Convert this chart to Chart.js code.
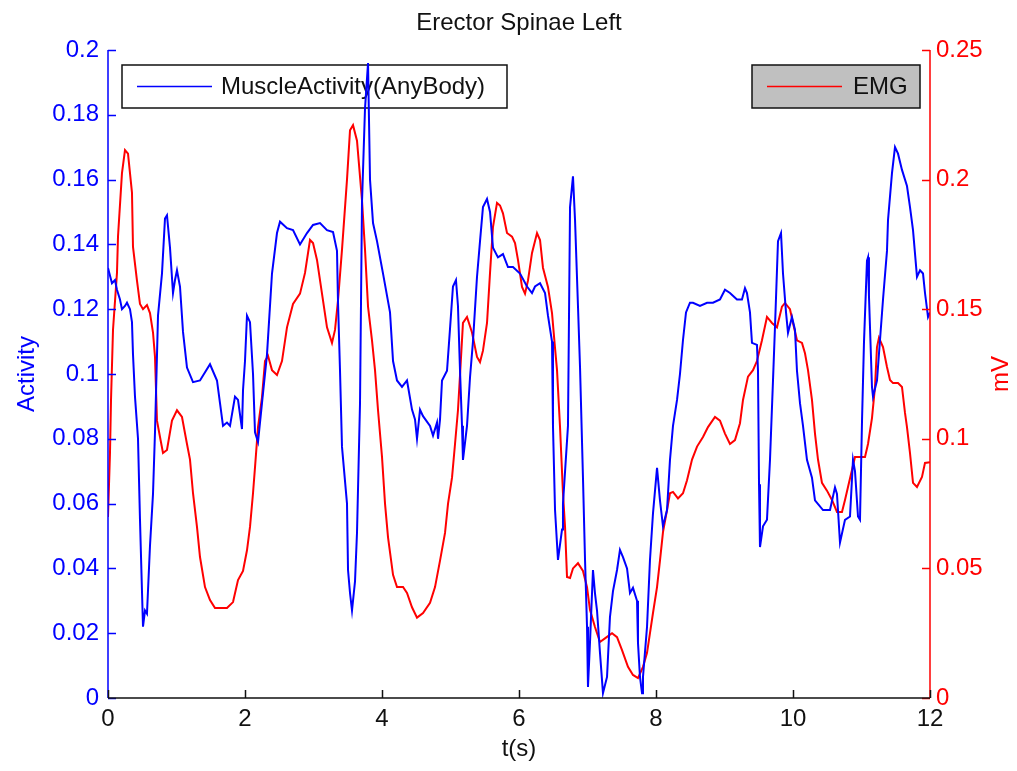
<!DOCTYPE html>
<html>
<head>
<meta charset="utf-8">
<title>Erector Spinae Left</title>
<script src="https://cdn.jsdelivr.net/npm/chart.js@4.4.0/dist/chart.umd.min.js"></script>
<style>
  html, body { margin: 0; padding: 0; background: #fff; }
  canvas { display: block; }
</style>
</head>
<body>
<canvas id="chart" width="1017" height="771"></canvas>
<script>
// AnyBody muscle activity (left axis)
const tActivity = [
  0, 0.058, 0.102, 0.131, 0.175, 0.204, 0.248, 0.277, 0.321, 0.35, 0.365, 0.394, 0.438, 0.467, 0.496, 0.511,
  0.54, 0.569, 0.613, 0.657, 0.686, 0.73, 0.788, 0.832, 0.861, 0.905, 0.949, 0.978, 1.007, 1.051, 1.095, 1.153,
  1.241, 1.343, 1.489, 1.591, 1.635, 1.679, 1.737, 1.781, 1.854, 1.898, 1.956, 1.971, 2.0, 2.029, 2.073, 2.117,
  2.146, 2.19, 2.248, 2.321, 2.394, 2.467, 2.511, 2.613, 2.701, 2.803, 2.905, 2.993, 3.095, 3.197, 3.285, 3.343,
  3.358, 3.387, 3.416, 3.489, 3.504, 3.533, 3.562, 3.606, 3.635, 3.679, 3.708, 3.752, 3.796, 3.825, 3.869, 3.927,
  4.015, 4.117, 4.161, 4.219, 4.292, 4.365, 4.438, 4.482, 4.511, 4.555, 4.599, 4.701, 4.745, 4.803, 4.818, 4.847,
  4.876, 4.949, 4.993, 5.036, 5.08, 5.109, 5.139, 5.168, 5.182, 5.241, 5.285, 5.328, 5.387, 5.431, 5.474, 5.533,
  5.577, 5.62, 5.693, 5.766, 5.839, 5.912, 6.015, 6.117, 6.19, 6.234, 6.307, 6.38, 6.423, 6.482, 6.496, 6.526,
  6.569, 6.628, 6.642, 6.715, 6.745, 6.788, 6.818, 6.861, 6.891, 6.934, 6.964, 6.993, 7.007, 7.036, 7.08, 7.109,
  7.139, 7.182, 7.226, 7.285, 7.328, 7.372, 7.431, 7.474, 7.518, 7.577, 7.62, 7.664, 7.723, 7.737, 7.766, 7.796,
  7.81, 7.869, 7.912, 7.956, 8.015, 8.058, 8.102, 8.161, 8.204, 8.248, 8.307, 8.35, 8.394, 8.438, 8.496, 8.54,
  8.642, 8.745, 8.832, 8.934, 9.007, 9.08, 9.182, 9.255, 9.299, 9.328, 9.372, 9.401, 9.474, 9.489, 9.504, 9.518,
  9.562, 9.62, 9.664, 9.708, 9.737, 9.781, 9.825, 9.854, 9.898, 9.927, 9.985, 10.029, 10.058, 10.102, 10.146, 10.204,
  10.277, 10.321, 10.438, 10.54, 10.613, 10.642, 10.686, 10.759, 10.832, 10.876, 10.905, 10.949, 10.978, 11.007, 11.036, 11.08,
  11.095, 11.109, 11.153, 11.168, 11.226, 11.27, 11.314, 11.372, 11.387, 11.445, 11.489, 11.533, 11.591, 11.664, 11.708, 11.752,
  11.81, 11.854, 11.898, 11.927, 11.971, 12.0
]
const activity = [
  0.1327, 0.128, 0.129, 0.126, 0.123, 0.12, 0.121, 0.122, 0.12, 0.116, 0.106, 0.093, 0.08, 0.055, 0.033, 0.022,
  0.027, 0.026, 0.047, 0.063, 0.082, 0.118, 0.131, 0.148, 0.149, 0.139, 0.125, 0.129, 0.132, 0.127, 0.113, 0.102,
  0.0975, 0.098, 0.103, 0.098, 0.091, 0.084, 0.085, 0.084, 0.093, 0.092, 0.083, 0.095, 0.104, 0.118, 0.116, 0.1,
  0.082, 0.079, 0.091, 0.106, 0.131, 0.1435, 0.147, 0.145, 0.1444, 0.14, 0.1435, 0.146, 0.1466, 0.1444, 0.1438, 0.138,
  0.122, 0.101, 0.0775, 0.06, 0.0395, 0.0324, 0.027, 0.036, 0.051, 0.091, 0.153, 0.182, 0.196, 0.16, 0.1466, 0.141,
  0.131, 0.119, 0.104, 0.098, 0.096, 0.098, 0.089, 0.086, 0.08, 0.089, 0.087, 0.084, 0.081, 0.085, 0.08, 0.086,
  0.098, 0.101, 0.114, 0.127, 0.129, 0.121, 0.101, 0.084, 0.0735, 0.084, 0.099, 0.11, 0.13, 0.141, 0.1515, 0.154,
  0.15, 0.139, 0.136, 0.137, 0.133, 0.133, 0.131, 0.127, 0.125, 0.127, 0.128, 0.125, 0.118, 0.11, 0.084, 0.058,
  0.0426, 0.052, 0.06, 0.084, 0.1515, 0.161, 0.1475, 0.121, 0.102, 0.068, 0.0426, 0.022, 0.0034, 0.017, 0.0395, 0.0324,
  0.027, 0.014, 0.0015, 0.0065, 0.025, 0.033, 0.0395, 0.0457, 0.0435, 0.04, 0.0324, 0.034, 0.03, 0.017, 0.0065, 0.0015,
  0.0065, 0.022, 0.0426, 0.057, 0.071, 0.061, 0.053, 0.058, 0.0735, 0.084, 0.092, 0.1, 0.1105, 0.119, 0.122, 0.122,
  0.121, 0.122, 0.122, 0.123, 0.126, 0.125, 0.123, 0.123, 0.1265, 0.125, 0.119, 0.1096, 0.109, 0.101, 0.066, 0.0466,
  0.053, 0.055, 0.0735, 0.098, 0.1145, 0.141, 0.1435, 0.131, 0.119, 0.1127, 0.1176, 0.1136, 0.101, 0.091, 0.084, 0.0735,
  0.068, 0.061, 0.058, 0.058, 0.065, 0.063, 0.048, 0.055, 0.056, 0.0735, 0.07, 0.056, 0.055, 0.085, 0.1096, 0.135,
  0.136, 0.124, 0.096, 0.093, 0.098, 0.1105, 0.123, 0.138, 0.1475, 0.162, 0.17, 0.168, 0.163, 0.158, 0.1515, 0.1444,
  0.13, 0.132, 0.131, 0.125, 0.1176, 0.119
]

// measured EMG envelope in mV (right axis)
const tEmg = [
  0, 0.029, 0.044, 0.073, 0.131, 0.146, 0.204, 0.248, 0.292, 0.35, 0.365, 0.423, 0.467, 0.511, 0.569, 0.613,
  0.657, 0.686, 0.715, 0.759, 0.803, 0.861, 0.934, 1.007, 1.08, 1.153, 1.197, 1.241, 1.299, 1.343, 1.416, 1.489,
  1.562, 1.737, 1.825, 1.898, 1.971, 2.029, 2.073, 2.117, 2.146, 2.19, 2.248, 2.292, 2.336, 2.394, 2.467, 2.54,
  2.613, 2.701, 2.803, 2.876, 2.949, 2.993, 3.051, 3.124, 3.197, 3.27, 3.314, 3.358, 3.416, 3.489, 3.533, 3.577,
  3.635, 3.708, 3.752, 3.796, 3.854, 3.898, 3.942, 4.0, 4.044, 4.088, 4.161, 4.219, 4.307, 4.365, 4.438, 4.511,
  4.599, 4.701, 4.774, 4.847, 4.92, 4.964, 5.022, 5.066, 5.109, 5.139, 5.182, 5.241, 5.314, 5.387, 5.431, 5.474,
  5.533, 5.577, 5.62, 5.679, 5.723, 5.766, 5.825, 5.898, 5.942, 5.985, 6.044, 6.088, 6.131, 6.19, 6.263, 6.307,
  6.35, 6.423, 6.482, 6.526, 6.555, 6.599, 6.642, 6.672, 6.701, 6.745, 6.788, 6.861, 6.934, 6.993, 7.036, 7.109,
  7.182, 7.255, 7.358, 7.431, 7.504, 7.591, 7.664, 7.737, 7.81, 7.869, 7.912, 7.956, 8.015, 8.058, 8.102, 8.161,
  8.204, 8.248, 8.321, 8.394, 8.453, 8.526, 8.599, 8.686, 8.759, 8.861, 8.934, 9.007, 9.08, 9.153, 9.226, 9.27,
  9.343, 9.416, 9.474, 9.547, 9.62, 9.693, 9.766, 9.839, 9.883, 9.956, 10.0, 10.058, 10.131, 10.175, 10.219, 10.277,
  10.321, 10.365, 10.423, 10.496, 10.569, 10.642, 10.715, 10.759, 10.803, 10.861, 10.905, 10.978, 11.051, 11.095, 11.153, 11.197,
  11.226, 11.255, 11.314, 11.372, 11.416, 11.46, 11.533, 11.591, 11.635, 11.664, 11.708, 11.752, 11.81, 11.883, 11.927, 12.0
]
const emg = [
  0.0698, 0.0945, 0.115, 0.142, 0.164, 0.178, 0.2025, 0.2114, 0.21, 0.195, 0.174, 0.161, 0.152, 0.15, 0.1516, 0.1485,
  0.141, 0.1316, 0.107, 0.1007, 0.0945, 0.0957, 0.107, 0.111, 0.1084, 0.098, 0.092, 0.079, 0.066, 0.0544, 0.0428, 0.0378,
  0.0347, 0.0347, 0.037, 0.0455, 0.049, 0.057, 0.066, 0.079, 0.089, 0.1045, 0.116, 0.13, 0.132, 0.1265, 0.1246, 0.13,
  0.143, 0.152, 0.156, 0.164, 0.1767, 0.1755, 0.169, 0.156, 0.143, 0.137, 0.142, 0.1535, 0.173, 0.2, 0.219, 0.221,
  0.215, 0.192, 0.173, 0.151, 0.138, 0.1265, 0.111, 0.093, 0.075, 0.062, 0.0475, 0.0428, 0.0428, 0.0405, 0.035, 0.031,
  0.0328, 0.0367, 0.0428, 0.053, 0.0637, 0.075, 0.085, 0.098, 0.111, 0.1246, 0.1447, 0.147, 0.141, 0.1316, 0.1296, 0.134,
  0.1447, 0.164, 0.1817, 0.191, 0.19, 0.187, 0.1794, 0.178, 0.1755, 0.169, 0.1586, 0.156, 0.161, 0.1717, 0.1794, 0.1767,
  0.166, 0.1586, 0.1485, 0.135, 0.1265, 0.1045, 0.079, 0.066, 0.0467, 0.0463, 0.05, 0.052, 0.049, 0.0428, 0.034, 0.0274,
  0.0216, 0.023, 0.025, 0.0235, 0.0185, 0.012, 0.0089, 0.0077, 0.012, 0.0174, 0.025, 0.0328, 0.0428, 0.053, 0.064, 0.0725,
  0.079, 0.0795, 0.077, 0.079, 0.084, 0.092, 0.097, 0.1007, 0.1045, 0.1084, 0.107, 0.102, 0.098, 0.0995, 0.106, 0.115,
  0.124, 0.1265, 0.13, 0.138, 0.147, 0.1447, 0.143, 0.151, 0.1524, 0.15, 0.1447, 0.138, 0.137, 0.133, 0.1265, 0.115,
  0.102, 0.092, 0.083, 0.08, 0.0764, 0.0718, 0.0718, 0.0764, 0.0814, 0.088, 0.093, 0.093, 0.093, 0.098, 0.108, 0.12,
  0.1354, 0.139, 0.1354, 0.1277, 0.1227, 0.1215, 0.1215, 0.12, 0.11, 0.1045, 0.0945, 0.083, 0.0814, 0.0853, 0.0907, 0.091
]

const leftTicks = { min: 0, max: 0.2, step: 0.02 }
const rightTicks = { min: 0, max: 0.25, step: 0.05 }
const timeTicks = { min: 0, max: 12, step: 2 }

const FONT = 'Liberation Sans, Arial, sans-serif'
const BLUE = '#0000ff'
const RED = '#ff0000'

function toPoints(xs, ys) {
    return xs.map((x, i) => ({ x: x, y: ys[i] }))
}

// short labels like 0.2 / 0.25 instead of 0.20
function shortLabel(v) {
    return String(+v.toFixed(3))
}

// titles, axis lines with inward ticks, and the two separate legend boxes
const matlabFrame = {
    id: 'matlabFrame',
    beforeDatasetsDraw(chart) {
        const ctx = chart.ctx
        const sets = chart.data.datasets

        function legendBox(x, y, w, h, fill, ds, textX) {
            ctx.save()
            ctx.fillStyle = fill
            ctx.fillRect(x, y, w, h)
            ctx.strokeStyle = '#111'
            ctx.lineWidth = 1.5
            ctx.strokeRect(x, y, w, h)
            ctx.strokeStyle = ds.borderColor
            ctx.lineWidth = 1.5
            ctx.beginPath()
            ctx.moveTo(x + 15, y + h / 2)
            ctx.lineTo(x + 90, y + h / 2)
            ctx.stroke()
            ctx.fillStyle = '#111'
            ctx.font = '24px ' + FONT
            ctx.textAlign = 'left'
            ctx.textBaseline = 'middle'
            ctx.fillText(ds.label, textX, y + h / 2 + 1)
            ctx.restore()
        }

        legendBox(122, 65, 385, 43, '#ffffff', sets[0], 221)
        legendBox(752, 65, 168, 43, '#c0c0c0', sets[1], 853)
    },
    afterDatasetsDraw(chart) {
        const ctx = chart.ctx
        const area = chart.chartArea
        const x = chart.scales.x
        const yL = chart.scales.yL
        const yR = chart.scales.yR
        const tickLen = 8

        ctx.save()
        ctx.lineWidth = 1.5

        // left axis
        ctx.strokeStyle = BLUE
        ctx.beginPath()
        ctx.moveTo(area.left, area.top)
        ctx.lineTo(area.left, area.bottom)
        yL.ticks.forEach(t => {
            const py = Math.round(yL.getPixelForValue(t.value)) + 0.5
            ctx.moveTo(area.left, py)
            ctx.lineTo(area.left + tickLen, py)
        })
        ctx.stroke()

        // right axis
        ctx.strokeStyle = RED
        ctx.beginPath()
        ctx.moveTo(area.right, area.top)
        ctx.lineTo(area.right, area.bottom)
        yR.ticks.forEach(t => {
            const py = Math.round(yR.getPixelForValue(t.value)) + 0.5
            ctx.moveTo(area.right, py)
            ctx.lineTo(area.right - tickLen, py)
        })
        ctx.stroke()

        // time axis
        ctx.strokeStyle = '#111'
        ctx.beginPath()
        ctx.moveTo(area.left, area.bottom)
        ctx.lineTo(area.right, area.bottom)
        x.ticks.forEach(t => {
            const px = Math.round(x.getPixelForValue(t.value)) + 0.5
            ctx.moveTo(px, area.bottom)
            ctx.lineTo(px, area.bottom - tickLen)
        })
        ctx.stroke()

        // titles
        ctx.font = '24px ' + FONT
        ctx.textAlign = 'center'
        ctx.textBaseline = 'middle'
        ctx.fillStyle = '#111'
        ctx.fillText('Erector Spinae Left', (area.left + area.right) / 2, 23)
        ctx.fillText('t(s)', (area.left + area.right) / 2, 749)

        const midY = (area.top + area.bottom) / 2
        ctx.save()
        ctx.translate(27, midY)
        ctx.rotate(-Math.PI / 2)
        ctx.fillStyle = BLUE
        ctx.fillText('Activity', 0, 0)
        ctx.restore()

        ctx.save()
        ctx.translate(1001, midY)
        ctx.rotate(-Math.PI / 2)
        ctx.fillStyle = RED
        ctx.fillText('mV', 0, 0)
        ctx.restore()

        ctx.restore()
    }
}

const data = {
    datasets: [
        {
            label: 'MuscleActivity(AnyBody)',
            data: toPoints(tActivity, activity),
            yAxisID: 'yL',
            borderColor: BLUE,
            borderWidth: 2,
            pointRadius: 0,
            tension: 0
        },
        {
            label: 'EMG',
            data: toPoints(tEmg, emg),
            yAxisID: 'yR',
            borderColor: RED,
            borderWidth: 2,
            pointRadius: 0,
            tension: 0
        }
    ]
}

const tickFont = { family: FONT, size: 24 }

const options = {
    responsive: false,
    animation: false,
    layout: { padding: { top: 50, left: 0, right: 0, bottom: 0 } },
    plugins: {
        legend: { display: false },
        title: { display: false },
        tooltip: { enabled: false }
    },
    scales: {
        x: {
            type: 'linear',
            min: timeTicks.min,
            max: timeTicks.max,
            grid: { display: false, drawTicks: false },
            border: { display: false },
            ticks: { stepSize: timeTicks.step, color: '#111', font: tickFont, padding: 7, maxRotation: 0, autoSkip: false, callback: shortLabel },
            afterFit: s => { s.height = 73 }
        },
        yL: {
            position: 'left',
            min: leftTicks.min,
            max: leftTicks.max,
            grid: { display: false, drawTicks: false },
            border: { display: false },
            ticks: { stepSize: leftTicks.step, color: BLUE, font: tickFont, padding: 9, autoSkip: false, callback: shortLabel },
            afterFit: s => { s.width = 108 }
        },
        yR: {
            position: 'right',
            min: rightTicks.min,
            max: rightTicks.max,
            grid: { display: false, drawTicks: false },
            border: { display: false },
            ticks: { stepSize: rightTicks.step, color: RED, font: tickFont, padding: 6, autoSkip: false, callback: shortLabel },
            afterFit: s => { s.width = 87 }
        }
    }
}

new Chart('chart', { type: 'line', data, options, plugins: [matlabFrame] })
</script>
</body>
</html>
